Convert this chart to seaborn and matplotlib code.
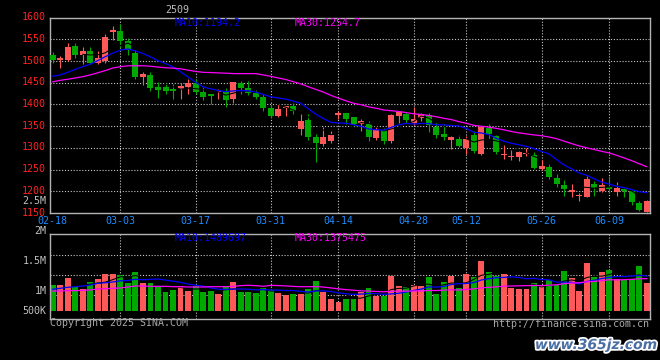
import numpy as np
import pandas as pd
import matplotlib
matplotlib.use("Agg")
import matplotlib.pyplot as plt
import matplotlib.patheffects as pe
import matplotlib.transforms as mtransforms
import seaborn as sns

# ---------------- data ----------------
dates = ["02-18","02-19","02-20","02-21","02-24","02-25","02-26","02-27","02-28",
         "03-03","03-04","03-05","03-06","03-07","03-10","03-11","03-12","03-13","03-14",
         "03-17","03-18","03-19","03-20","03-21","03-24","03-25","03-26","03-27","03-28",
         "03-31","04-01","04-02","04-03","04-07","04-08","04-09","04-10","04-11",
         "04-14","04-15","04-16","04-17","04-18","04-21","04-22","04-23","04-24","04-25",
         "04-28","04-29","04-30","05-06","05-07","05-08","05-09",
         "05-12","05-13","05-14","05-15","05-16","05-19","05-20","05-21","05-22","05-23",
         "05-26","05-27","05-28","05-29","05-30","06-03","06-04","06-05","06-06",
         "06-09","06-10","06-11","06-12","06-13","06-16"]

opens  = [1513,1502,1503,1535,1514,1523,1495,1499,1566,1569,1546,1519,1463,1467,1440,1440,
          1436,1435,1440,1450,1429,1424,1428,1432,1412,1450,1439,1427,1417,1392,1374,1392,
          1396,1344,1364,1326,1308,1316,1375,1380,1370,1355,1356,1322,1342,1315,1374,1379,
          1357,1369,1376,1348,1333,1317,1321,1299,1330,1285,1346,1327,1283,1280,1278,1286,
          1283,1251,1255,1230,1214,1198,1189,1187,1217,1200,1210,1199,1206,1201,1174,1153]
highs  = [1521,1512,1542,1541,1532,1533,1522,1562,1580,1585,1552,1526,1474,1475,1452,1449,
          1447,1449,1458,1459,1440,1425,1436,1437,1452,1455,1455,1433,1423,1399,1401,1397,
          1404,1377,1378,1331,1349,1338,1385,1381,1371,1367,1361,1348,1346,1377,1385,1382,
          1394,1381,1380,1359,1355,1327,1330,1327,1338,1351,1355,1330,1306,1295,1292,1299,
          1291,1274,1262,1239,1225,1217,1196,1235,1224,1230,1236,1221,1210,1203,1178,1180]
lows   = [1496,1483,1500,1506,1492,1492,1494,1496,1549,1531,1513,1459,1444,1431,1415,1423,
          1412,1412,1425,1423,1410,1401,1412,1395,1403,1424,1422,1412,1385,1369,1371,1374,
          1377,1329,1317,1267,1305,1312,1367,1355,1351,1338,1315,1319,1310,1312,1358,1358,
          1352,1361,1336,1322,1317,1297,1303,1286,1288,1283,1320,1287,1274,1272,1270,1281,
          1252,1250,1229,1211,1189,1187,1177,1186,1190,1198,1196,1190,1186,1168,1155,1152]
closes = [1503,1506,1532,1513,1523,1496,1508,1555,1571,1547,1525,1464,1470,1438,1433,1430,
          1432,1443,1449,1428,1417,1420,1432,1410,1451,1437,1426,1417,1392,1374,1389,1396,
          1384,1361,1324,1312,1324,1330,1380,1367,1353,1361,1324,1342,1315,1376,1382,1364,
          1366,1379,1352,1330,1324,1326,1305,1320,1292,1348,1331,1290,1287,1281,1291,1289,
          1253,1258,1233,1217,1205,1203,1192,1228,1208,1215,1206,1208,1200,1175,1157,1177]
volumes = [1090,1102,1403,1030,931,1231,1360,1574,1574,1532,1201,1660,1188,1188,1060,802,
           888,1060,845,1060,802,845,716,1060,1231,802,802,759,974,888,759,674,
           716,716,931,1274,802,502,386,502,502,802,974,631,631,1489,1060,1017,
           1102,1060,1446,716,1231,1489,974,1574,1446,2132,1660,1489,1574,974,931,931,
           1188,1060,1317,1102,1703,1403,845,2046,1446,1660,1746,1360,1317,1360,1918,1201]
volumes = [v * 1000 for v in volumes]

# moving-average values before enough in-window history exists
ma10_head = [1465,1468,1474,1481,1487,1493,1501,1510,1518]
ma30_head = [1452,1455.5,1458,1461,1464,1468,1473,1478,1484,1487,1489,1489,1489,1488,
             1486,1484.5,1483.5,1482,1479,1476,1474,1473.5,1472.7,1472,1471,1471,1471,1471,1468]
vma10_head = [918e3,960e3,1003e3,1030e3,1060e3,1100e3,1175e3,1200e3,1231e3]
vma30_head = [845e3,845e3,860e3,860e3,875e3,888e3,931e3,945e3,960e3,974e3,1017e3,1060e3,
              1060e3,1046e3,1046e3,1046e3,1030e3,1030e3,1017e3,1017e3,1017e3,1030e3,1030e3,
              1030e3,1046e3,1075e3,1090e3,1075e3,1046e3]

tick_dates = ["02-18","03-03","03-17","03-31","04-14","04-28","05-12","05-26","06-09"]
price_ticks = [1150,1200,1250,1300,1350,1400,1450,1500,1550,1600]
vol_labels = ["2.5M","2M","1.5M","1M","500K"]

# ---------------- derived ----------------
df = pd.DataFrame({"date": dates, "open": opens, "high": highs, "low": lows,
                   "close": closes, "vol": volumes})
df["idx"] = np.arange(len(df))
df["dir"] = np.where(df["close"] >= df["open"], "up", "down")

def ma_series(values, n, head):
    r = pd.Series(values, dtype=float).rolling(n).mean()
    r.iloc[:len(head)] = head
    return r

df["ma10"] = ma_series(closes, 10, ma10_head)
df["ma30"] = ma_series(closes, 30, ma30_head)
df["ma5"] = pd.Series(closes, dtype=float).rolling(5).mean()
df["vma10"] = ma_series(volumes, 10, vma10_head)
df["vma30"] = ma_series(volumes, 30, vma30_head)
df["vma5"] = pd.Series(volumes, dtype=float).rolling(5).mean()

RED = "#FF5858"
GREEN = "#00A800"
BLUE = "#0000FF"
MAG = "#FF00FF"
GRID = "#C8C8C8"
SPINE = "#B4B4B4"
TXTG = "#C0C0C0"
DATEC = "#1E8CFF"
PRICEC = "#FF2222"
MONO = "DejaVu Sans Mono"
FS = 7.2

plt.rcParams["font.family"] = [MONO, "DejaVu Sans"]

W, H = 660, 360
fig = plt.figure(figsize=(6.6, 3.6), dpi=100, facecolor="black")

def fx(x):
    return x / W

def fy(y):
    return 1 - y / H

ax = fig.add_axes([fx(50), fy(213), (649.5 - 50) / W, (213 - 17.6) / H])
axv = fig.add_axes([fx(50), fy(319), (649.5 - 50) / W, (319 - 234) / H])
for a in (ax, axv):
    a.set_facecolor("black")
    for s in a.spines.values():
        s.set_color(SPINE)
        s.set_linewidth(1.0)

xlim = (-0.36, len(df) - 1 + 0.36)
tick_pos = [dates.index(d) for d in tick_dates]
dot = (0, (1, 1.6))

# ---------------- main candlestick panel ----------------
for v in price_ticks[1:-1]:
    ax.axhline(v, color=GRID, lw=0.8, ls=dot, zorder=0)
for p in tick_pos[1:]:
    ax.axvline(p, color=GRID, lw=0.8, ls=dot, zorder=0)

cols = np.where(df["dir"] == "up", RED, GREEN)
ax.vlines(df["idx"], df["low"], df["high"], colors=cols, lw=0.8, zorder=2)
body = np.maximum((df["close"] - df["open"]).abs(), 1.2)
ax.bar(df["idx"], body, bottom=np.minimum(df["open"], df["close"]), width=0.8,
       color=cols, linewidth=0, zorder=3)

sns.lineplot(data=df, x="idx", y="ma5", ax=ax, color="black", lw=0.75, zorder=4,
             estimator=None)
sns.lineplot(data=df, x="idx", y="ma10", ax=ax, color=BLUE, lw=0.9, zorder=5,
             estimator=None)
sns.lineplot(data=df, x="idx", y="ma30", ax=ax, color=MAG, lw=0.9, zorder=5,
             estimator=None)

ax.set_xlim(*xlim)
ax.set_ylim(1150, 1600)
ax.set_yticks(price_ticks)
ax.set_yticklabels([str(v) for v in price_ticks], color=PRICEC, fontsize=FS,
                   family=MONO)
ax.set_xticks(tick_pos)
ax.set_xticklabels(tick_dates, color=DATEC, fontsize=FS, family=MONO)
ax.tick_params(axis="both", length=0)
ax.tick_params(axis="y", pad=3)
ax.tick_params(axis="x", pad=2.5)
ax.set_xlabel("")
ax.set_ylabel("")
shift_up = mtransforms.ScaledTranslation(0, 1.5 / 100, fig.dpi_scale_trans)
for lbl in ax.get_yticklabels():
    lbl.set_transform(lbl.get_transform() + shift_up)

# ---------------- volume panel ----------------
for f in (0.749, 0.514, 0.279):
    axv.axhline(f * 3.646e6 - 0.356e6, color=GRID, lw=0.8, ls=dot, zorder=0)
for p in tick_pos[1:]:
    axv.axvline(p, color=GRID, lw=0.8, ls=dot, zorder=0)

sns.barplot(data=df, x="idx", y="vol", hue="dir", palette={"up": RED, "down": GREEN},
            native_scale=True, dodge=False, width=0.78, saturation=1, errorbar=None,
            legend=False, linewidth=0, ax=axv, zorder=2)
sns.lineplot(data=df, x="idx", y="vma5", ax=axv, color="black", lw=0.75, zorder=4,
             estimator=None)
sns.lineplot(data=df, x="idx", y="vma10", ax=axv, color=BLUE, lw=0.9, zorder=5,
             estimator=None)
sns.lineplot(data=df, x="idx", y="vma30", ax=axv, color=MAG, lw=0.9, zorder=5,
             estimator=None)
axv.set_xlim(*xlim)
axv.set_ylim(-0.356e6, 3.29e6)
axv.set_xticks([])
axv.set_yticks([])
axv.set_xlabel("")
axv.set_ylabel("")

# ---------------- texts ----------------
def txt(x, y, s, color, ha="left", **kw):
    fig.text(fx(x), fy(y), s, color=color, ha=ha, va="center", fontsize=FS,
             family=MONO, **kw)

txt(165, 10, "2509", "#BDBDBD")
txt(175, 23.5, "MA10:1194.2", BLUE)
txt(295, 23.5, "MA30:1254.7", MAG)
txt(175, 238, "MA10:1489697", BLUE)
txt(295, 238, "MA30:1375475", MAG)
for lab, y in zip(vol_labels, [201, 231, 261, 291, 311]):
    txt(46.5, y, lab, TXTG, ha="right")
txt(50, 323, "Copyright 2025 SINA.COM", "#A8A8A8")
txt(649, 324, "http://finance.sina.com.cn", "#A8A8A8", ha="right")

fig.text(fx(596), fy(345), "www.365jz.com", color="#4A6FA5", ha="center", va="center",
         fontsize=10, fontweight="bold", fontstyle="italic", family="DejaVu Sans",
         path_effects=[pe.withStroke(linewidth=2.5, foreground="white")])

fig.savefig("out.png", dpi=100, facecolor="black")
